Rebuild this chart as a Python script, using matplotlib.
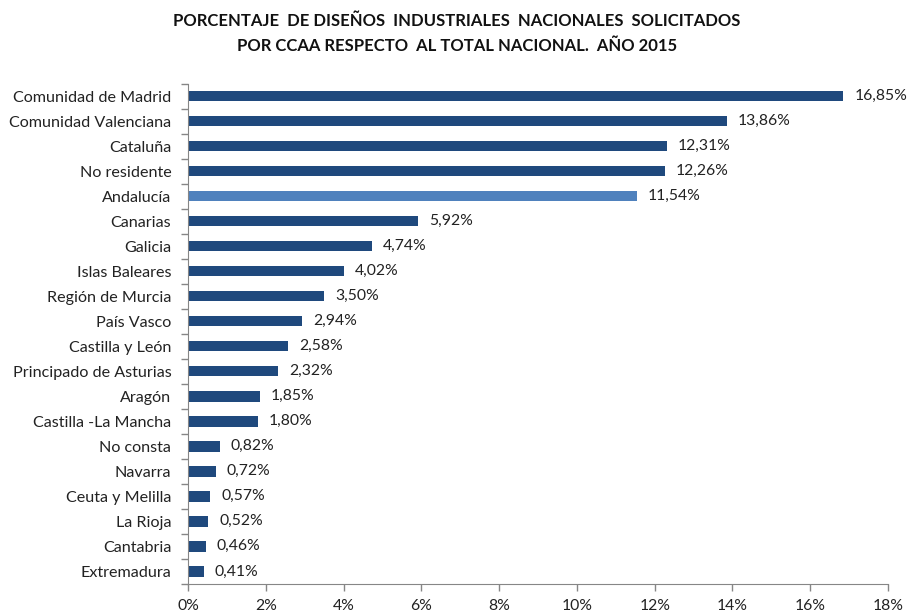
import matplotlib.pyplot as plt
from matplotlib.ticker import FixedLocator

plt.rcParams['font.family'] = ['Lato', 'DejaVu Sans']

regions = ["Comunidad de Madrid", "Comunidad Valenciana", "Cataluña", "No residente",
           "Andalucía", "Canarias", "Galicia", "Islas Baleares", "Región de Murcia",
           "País Vasco", "Castilla y León", "Principado de Asturias", "Aragón",
           "Castilla -La Mancha", "No consta", "Navarra", "Ceuta y Melilla",
           "La Rioja", "Cantabria", "Extremadura"]
shares = [16.85, 13.86, 12.31, 12.26, 11.54, 5.92, 4.74, 4.02, 3.50, 2.94,
          2.58, 2.32, 1.85, 1.80, 0.82, 0.72, 0.57, 0.52, 0.46, 0.41]
highlight = "Andalucía"
xticks = [0, 2, 4, 6, 8, 10, 12, 14, 16, 18]

dark = "#1F497D"
light = "#4F81BD"
grey = "#868686"

fig = plt.figure(figsize=(9.14, 6.14), dpi=100)
ax = fig.add_axes([0.2057, 0.049, 0.7659, 0.815])

ypos = list(range(len(regions)))
colors = [light if r == highlight else dark for r in regions]
ax.barh(ypos, shares, height=0.42, color=colors)
ax.set_ylim(len(regions) - 0.5, -0.5)
ax.set_xlim(0, 18)

for y, v in zip(ypos, shares):
    ax.text(v + 0.28, y, f"{v:.2f}%".replace(".", ","), va="center", ha="left",
            fontsize=11.3, color="#222222")

ax.set_yticks(ypos)
ax.set_yticklabels(regions, fontsize=11.6, color="#222222")
ax.tick_params(axis="y", length=0, pad=12)
ax.yaxis.set_minor_locator(FixedLocator([i - 0.5 for i in range(len(regions) + 1)]))
ax.tick_params(axis="y", which="minor", length=5, color=grey, width=1)

ax.set_xticks(xticks)
ax.set_xticklabels([f"{t}%" for t in xticks], fontsize=11.3, color="#222222")
ax.tick_params(axis="x", length=5, color=grey, width=1, pad=6)

for s in ["top", "right"]:
    ax.spines[s].set_visible(False)
for s in ["left", "bottom"]:
    ax.spines[s].set_color(grey)

fig.text(0.5, 0.965, "PORCENTAJE  DE DISEÑOS  INDUSTRIALES  NACIONALES  SOLICITADOS",
         ha="center", va="center", fontsize=12, fontweight="bold", color="#111111")
fig.text(0.5, 0.925, "POR CCAA RESPECTO  AL TOTAL NACIONAL.  AÑO 2015",
         ha="center", va="center", fontsize=12, fontweight="bold", color="#111111")

fig.savefig("out.png", dpi=100)
